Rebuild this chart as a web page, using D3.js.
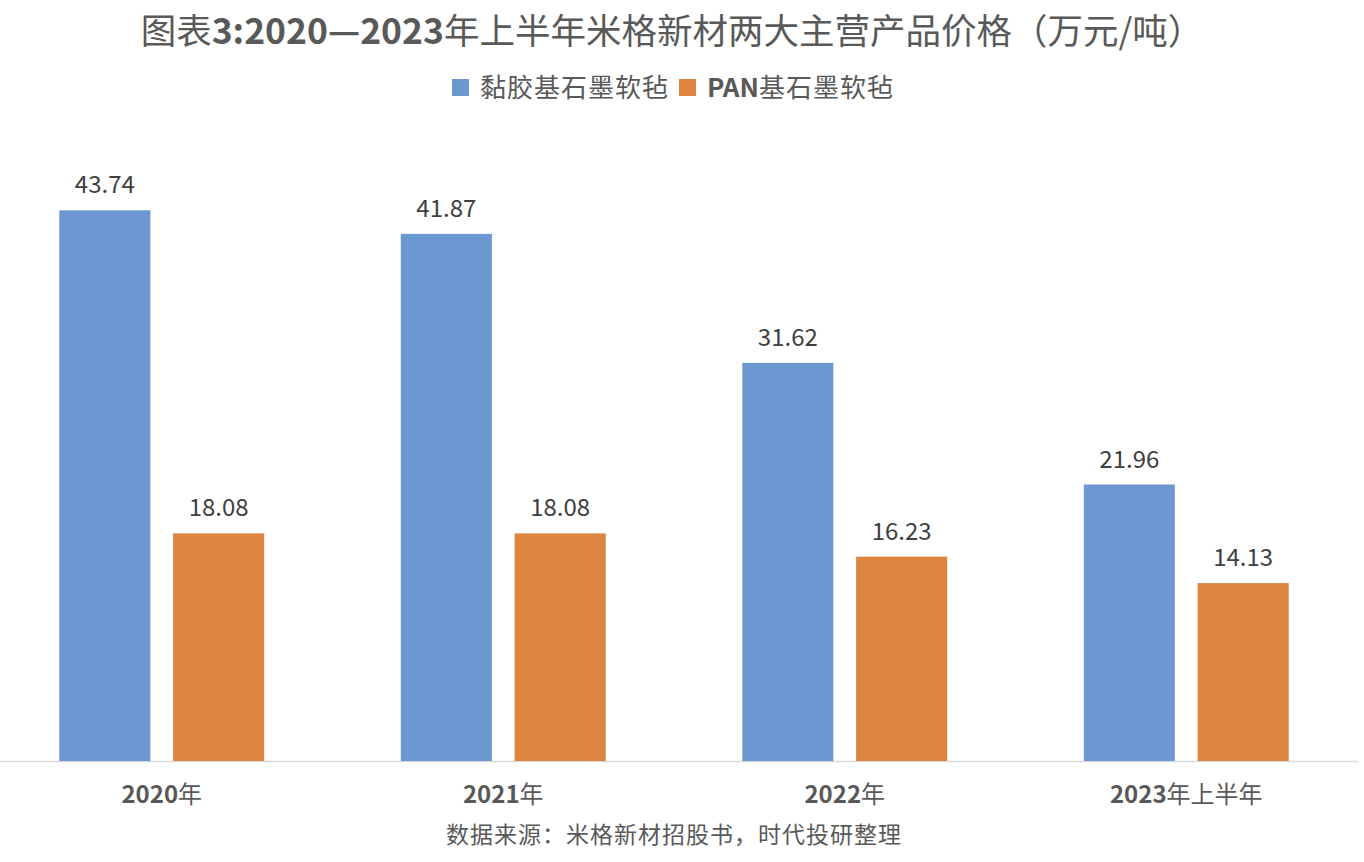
<!DOCTYPE html>
<html>
<head>
<meta charset="utf-8">
<script src="https://cdn.jsdelivr.net/npm/d3@7"></script>
<style>
  body { margin: 0; background: #fff; }
  text { font-family: "Noto Sans CJK SC", "Noto Sans", sans-serif; fill: #595959; }
</style>
</head>
<body>
<div id="chart"></div>
<script>
var categories = ["2020年", "2021年", "2022年", "2023年上半年"];
var seriesNames = ["黏胶基石墨软毡", "PAN基石墨软毡"];
var viscoseValues = [43.74, 41.87, 31.62, 21.96];
var panValues = [18.08, 18.08, 16.23, 14.13];
var colors = ["#6b98d1", "#de8441"];

var svgWidth = 1364;
var svgHeight = 862;

var svg = d3.select("#chart")
  .append("svg")
  .attr("width", svgWidth)
  .attr("height", svgHeight);

var seriesValues = [viscoseValues, panValues];

var data = categories.map(function(c, i) {
  return { cat: c, values: seriesValues.map(function(s, j) { return { name: seriesNames[j], value: s[i], idx: j }; }) };
});

var x0 = d3.scaleBand()
  .domain(categories)
  .range([-9, 1357])
  .paddingInner(0.4)
  .paddingOuter(0.2);

var x1 = d3.scaleBand()
  .domain(seriesNames)
  .range([0, x0.bandwidth()])
  .paddingInner(0.2);

var y = d3.scaleLinear()
  .domain([0, 50])
  .range([761, 761 - 50 * 12.59]);

// baseline
svg.append("line")
  .attr("x1", 0)
  .attr("x2", 1358)
  .attr("y1", y(0) + 0.5)
  .attr("y2", y(0) + 0.5)
  .attr("stroke", "#d9d9d9")
  .attr("stroke-width", 1.5);

var groups = svg.selectAll(".group")
  .data(data)
  .enter()
  .append("g")
  .attr("transform", d => `translate(${x0(d.cat)}, 0)`);

groups.selectAll("rect")
  .data(d => d.values)
  .enter()
  .append("rect")
  .attr("x", d => x1(d.name))
  .attr("y", d => y(d.value))
  .attr("width", x1.bandwidth())
  .attr("height", d => y(0) - y(d.value))
  .attr("fill", d => colors[d.idx]);

groups.selectAll(".val")
  .data(d => d.values)
  .enter()
  .append("text")
  .attr("x", d => x1(d.name) + x1.bandwidth() / 2)
  .attr("y", d => y(d.value) - 17)
  .attr("text-anchor", "middle")
  .attr("font-size", "24px")
  .style("fill", "#404040")
  .text(d => d.value.toFixed(2));

// category labels
var catLabels = svg.selectAll(".cat")
  .data(categories)
  .enter()
  .append("text")
  .attr("x", d => x0(d) + x0.bandwidth() / 2)
  .attr("y", 803)
  .attr("text-anchor", "middle")
  .attr("font-size", "24px");

catLabels.each(function(d) {
  var m = d.match(/^(\d+)(.*)$/);
  var t = d3.select(this);
  t.append("tspan").attr("font-weight", "bold").text(m[1]);
  t.append("tspan").text(m[2]);
});

// title
var title = svg.append("text")
  .attr("x", 672)
  .attr("y", 44)
  .attr("text-anchor", "middle")
  .attr("font-size", "35.5px");
title.append("tspan").text("图表");
title.append("tspan").attr("font-weight", "bold").text("3:2020—2023");
title.append("tspan").text("年上半年米格新材两大主营产品价格（万元/吨）");

// legend
var legend = svg.append("g");
var lx = 0;
seriesNames.forEach(function(name, i) {
  var g = legend.append("g").attr("transform", `translate(${lx}, 0)`);
  g.append("rect")
    .attr("x", 0)
    .attr("y", 79)
    .attr("width", 17)
    .attr("height", 17)
    .attr("fill", colors[i]);
  var t = g.append("text")
    .attr("x", 28)
    .attr("y", 97)
    .attr("font-size", "26px")
    .attr("letter-spacing", "1px");
  var m = name.match(/^([A-Z]*)(.*)$/);
  if (m[1]) t.append("tspan").attr("font-weight", "bold").attr("letter-spacing", "0px").text(m[1]);
  t.append("tspan").text(m[2]);
  lx += 28 + t.node().getComputedTextLength() + 10;
});
legend.attr("transform", `translate(${673 - (lx - 10) / 2}, 0)`);

// source
svg.append("text")
  .attr("x", 674)
  .attr("y", 843)
  .attr("text-anchor", "middle")
  .attr("font-size", "23px")
  .attr("letter-spacing", "1px")
  .text("数据来源：米格新材招股书，时代投研整理");
</script>
</body>
</html>
